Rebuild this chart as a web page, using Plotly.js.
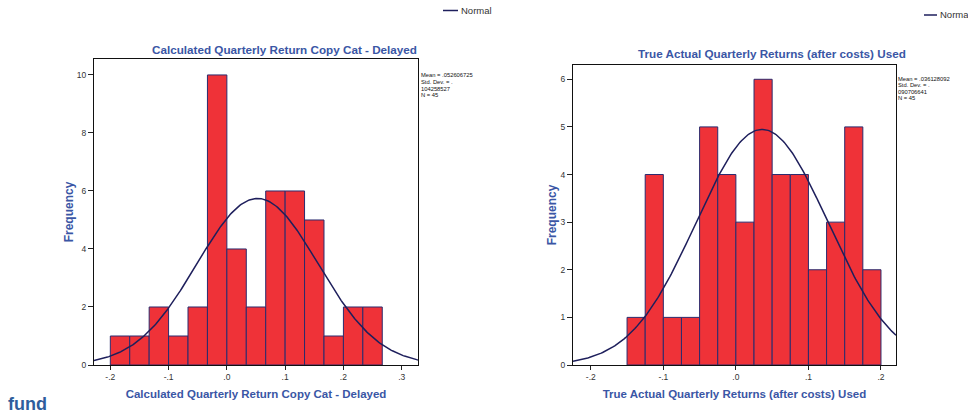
<!DOCTYPE html>
<html>
<head>
<meta charset="utf-8">
<script src="https://cdn.plot.ly/plotly-3.0.1.min.js"></script>
<style>
  html, body { margin: 0; padding: 0; background: #fff; }
  #chart { width: 968px; height: 416px; }
</style>
</head>
<body>
<div id="chart"></div>
<script>
// ---- Copy-cat (delayed) quarterly returns ----
const copyCatTitle = 'Calculated Quarterly Return Copy Cat - Delayed';
const copyCatBinStart = -0.2;
const copyCatBinWidth = 1 / 30;
const copyCatCounts = [1, 1, 2, 1, 2, 10, 4, 2, 6, 6, 5, 1, 2, 2];
const copyCatMean = 0.052606725;
const copyCatStdDev = 0.104258527;
const copyCatN = 45;
const copyCatXTickVals = [-0.2, -0.1, 0, 0.1, 0.2, 0.3];
const copyCatXTickText = ['-.2', '-.1', '.0', '.1', '.2', '.3'];
const copyCatYTickVals = [0, 2, 4, 6, 8, 10];

// ---- Actual quarterly returns after costs ----
const usedTitle = 'True Actual Quarterly Returns (after costs) Used';
const usedBinStart = -0.15;
const usedBinWidth = 0.025;
const usedCounts = [1, 4, 1, 1, 5, 4, 3, 6, 4, 4, 2, 3, 5, 2];
const usedMean = 0.036128092;
const usedStdDev = 0.090706641;
const usedN = 45;
const usedXTickVals = [-0.2, -0.1, 0, 0.1, 0.2];
const usedXTickText = ['-.2', '-.1', '.0', '.1', '.2'];
const usedYTickVals = [0, 1, 2, 3, 4, 5, 6];

const yAxisLabel = 'Frequency';
const legendLabel = 'Normal';
const footerLabel = 'fund';

// ---- styling ----
const W = 968, H = 416;
const FONT = 'Liberation Sans, Arial, Helvetica, sans-serif';
const TITLE_BLUE = '#3a56a5';
const BAR_RED = '#ef3238';
const BAR_EDGE = '#2b2b6e';
const CURVE = '#1e1f5c';

const px = x => x / W;          // pixel column -> paper x
const py = y => 1 - y / H;      // pixel row -> paper y

// plot frames in pixels
const leftBox = { x0: 94, x1: 418, y0: 59, y1: 365, xr: [-0.228, 0.328], yr: [0, 10.55] };
const rightBox = { x0: 573, x1: 896, y0: 65, y1: 365, xr: [-0.2245, 0.2207], yr: [0, 6.30] };

function binCenters(start, width, counts) {
  return counts.map((_, i) => start + (i + 0.5) * width);
}

// fitted normal curve scaled to histogram counts
function normalCurve(mean, sd, n, binWidth, range) {
  const xs = [], ys = [];
  const steps = 240;
  for (let i = 0; i <= steps; i++) {
    const x = range[0] + (range[1] - range[0]) * i / steps;
    const z = (x - mean) / sd;
    xs.push(x);
    ys.push(n * binWidth * Math.exp(-0.5 * z * z) / (sd * Math.sqrt(2 * Math.PI)));
  }
  return { xs, ys };
}

// SPSS-style decimals without the leading zero
const spss = v => v.toFixed(9).replace(/^0/, '');

function statLines(mean, sd, n) {
  const sdText = spss(sd);
  return ['Mean = ' + spss(mean), 'Std. Dev. = .', sdText.slice(1), 'N = ' + n];
}

const leftCurve = normalCurve(copyCatMean, copyCatStdDev, copyCatN, copyCatBinWidth, leftBox.xr);
const rightCurve = normalCurve(usedMean, usedStdDev, usedN, usedBinWidth, rightBox.xr);

const barStyle = { color: BAR_RED, line: { color: BAR_EDGE, width: 1 } };

const traces = [
  {
    type: 'bar', xaxis: 'x', yaxis: 'y',
    x: binCenters(copyCatBinStart, copyCatBinWidth, copyCatCounts),
    y: copyCatCounts, width: copyCatBinWidth,
    marker: barStyle, hoverinfo: 'skip', showlegend: false
  },
  {
    type: 'scatter', mode: 'lines', xaxis: 'x', yaxis: 'y',
    x: leftCurve.xs, y: leftCurve.ys,
    line: { color: CURVE, width: 1.5 }, hoverinfo: 'skip', showlegend: false
  },
  {
    type: 'bar', xaxis: 'x2', yaxis: 'y2',
    x: binCenters(usedBinStart, usedBinWidth, usedCounts),
    y: usedCounts, width: usedBinWidth,
    marker: barStyle, hoverinfo: 'skip', showlegend: false
  },
  {
    type: 'scatter', mode: 'lines', xaxis: 'x2', yaxis: 'y2',
    x: rightCurve.xs, y: rightCurve.ys,
    line: { color: CURVE, width: 1.5 }, hoverinfo: 'skip', showlegend: false
  }
];

function xAxis(box, vals, text, title) {
  return {
    domain: [px(box.x0), px(box.x1)], range: box.xr,
    tickmode: 'array', tickvals: vals, ticktext: text,
    ticks: 'outside', ticklen: 4, tickwidth: 1, tickcolor: '#222',
    tickfont: { family: FONT, size: 8.5, color: '#333' },
    showline: true, mirror: true, linecolor: '#111', linewidth: 1,
    showgrid: false, zeroline: false, fixedrange: true,
    title: { text: title, standoff: 8, font: { family: FONT, size: 11.5, color: TITLE_BLUE, weight: 'bold' } }
  };
}

function yAxis(box, vals, anchor, standoff) {
  return {
    domain: [py(box.y1), py(box.y0)], range: box.yr, anchor: anchor,
    tickmode: 'array', tickvals: vals,
    ticks: 'outside', ticklen: 5, tickwidth: 1, tickcolor: '#222',
    tickfont: { family: FONT, size: 8.5, color: '#333' },
    showline: true, mirror: true, linecolor: '#111', linewidth: 1,
    showgrid: false, zeroline: false, fixedrange: true,
    title: { text: yAxisLabel, standoff: standoff, font: { family: FONT, size: 12, color: TITLE_BLUE, weight: 'bold' } }
  };
}

const annotations = [];
const shapes = [];

function chartTitle(text, cx, cy) {
  annotations.push({
    xref: 'paper', yref: 'paper', x: px(cx), y: py(cy),
    xanchor: 'center', yanchor: 'middle', showarrow: false, text: text,
    font: { family: FONT, size: 11.7, color: TITLE_BLUE, weight: 'bold' }
  });
}

function statsBlock(lines, x, yFirst, step) {
  lines.forEach((t, i) => annotations.push({
    xref: 'paper', yref: 'paper', x: px(x), y: py(yFirst + i * step),
    xanchor: 'left', yanchor: 'middle', showarrow: false, text: t, borderpad: 0,
    font: { family: FONT, size: 5.8, color: '#111' }
  }));
}

function legendKey(x0, x1, y, textX) {
  shapes.push({
    type: 'line', xref: 'paper', yref: 'paper',
    x0: px(x0), x1: px(x1), y0: py(y), y1: py(y),
    line: { color: CURVE, width: 1.5 }
  });
  annotations.push({
    xref: 'paper', yref: 'paper', x: px(textX), y: py(y),
    xanchor: 'left', yanchor: 'middle', showarrow: false, text: legendLabel, borderpad: 0,
    font: { family: FONT, size: 9.5, color: '#333' }
  });
}

chartTitle(copyCatTitle, 284, 49);
chartTitle(usedTitle, 772, 53);
statsBlock(statLines(copyCatMean, copyCatStdDev, copyCatN), 420, 75.5, 6.6);
statsBlock(statLines(usedMean, usedStdDev, usedN), 897, 78.5, 6.6);
legendKey(443, 458, 10.5, 460);
legendKey(924, 937, 15, 939);

annotations.push({
  xref: 'paper', yref: 'paper', x: px(7), y: py(404),
  xanchor: 'left', yanchor: 'middle', showarrow: false, text: footerLabel, borderpad: 0,
  font: { family: FONT, size: 18, color: '#2e5d9c', weight: 'bold' }
});

const layout = {
  width: W, height: H,
  margin: { l: 0, r: 0, t: 0, b: 0, pad: 0 },
  paper_bgcolor: '#fff', plot_bgcolor: '#fff',
  showlegend: false, bargap: 0,
  xaxis: xAxis(leftBox, copyCatXTickVals, copyCatXTickText, copyCatTitle),
  yaxis: yAxis(leftBox, copyCatYTickVals, 'x', 0),
  xaxis2: Object.assign(xAxis(rightBox, usedXTickVals, usedXTickText, usedTitle), { anchor: 'y2' }),
  yaxis2: yAxis(rightBox, usedYTickVals, 'x2', 1),
  annotations: annotations,
  shapes: shapes
};
layout.xaxis.anchor = 'y';

Plotly.newPlot('chart', traces, layout, { staticPlot: true, displayModeBar: false });
</script>
</body>
</html>
